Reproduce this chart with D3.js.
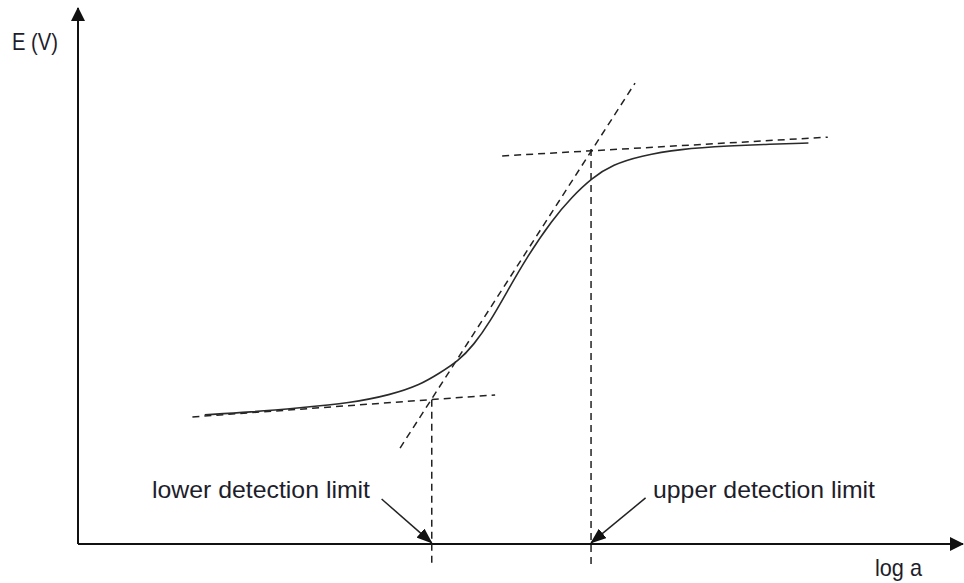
<!DOCTYPE html>
<html>
<head>
<meta charset="utf-8">
<script src="https://cdn.jsdelivr.net/npm/d3@7"></script>
<style>
  body { margin: 0; background: #fff; }
  text { font-family: "Liberation Sans", Arial, sans-serif; font-size: 24px; fill: #1d1d2b; }
</style>
</head>
<body>
<svg id="chart"></svg>
<script>
// response curve E vs log a (arbitrary units, 0..10 on both axes)
const curveX = [1.44, 1.96, 2.52, 3.09, 3.55, 3.89, 4.11, 4.32, 4.50, 4.68, 4.88, 5.10, 5.39, 5.61, 5.84, 6.08, 6.39, 6.84, 7.41, 7.86, 8.30];
const curveY = [2.41, 2.46, 2.54, 2.63, 2.78, 2.97, 3.19, 3.41, 3.72, 4.14, 4.72, 5.35, 6.05, 6.47, 6.83, 7.08, 7.24, 7.37, 7.43, 7.46, 7.48];

// tangent lines [x1, y1, x2, y2]
const lowerTangent = [1.30, 2.37, 4.74, 2.78];
const upperTangent = [4.82, 7.24, 8.52, 7.59];
const steepTangent = [3.66, 1.79, 6.33, 8.60];

// detection limits (x) and the top of their drop lines
const limitX = [4.02, 5.83];
const limitTop = [2.69, 7.37];
const limitBottom = -0.38;

const labels = ["lower detection limit", "upper detection limit"];
const labelWidths = [218, 222];
const tails = [[3.45, 0.84], [6.45, 0.86]]; // arrow tails near the labels

const width = 964, height = 583;
const x = d3.scaleLinear().domain([0, 10]).range([78, 958]);
const y = d3.scaleLinear().domain([0, 10]).range([544, 8]);

const svg = d3.select("#chart").attr("width", width).attr("height", height);

const defs = svg.append("defs");
defs.append("marker")
    .attr("id", "axisHead")
    .attr("markerUnits", "userSpaceOnUse")
    .attr("viewBox", "0 0 14 14")
    .attr("refX", 13).attr("refY", 7)
    .attr("markerWidth", 14).attr("markerHeight", 14)
    .attr("orient", "auto")
  .append("path").attr("d", "M0,0L14,7L0,14Z").attr("fill", "#111");
defs.append("marker")
    .attr("id", "noteHead")
    .attr("markerUnits", "userSpaceOnUse")
    .attr("viewBox", "0 0 16 12")
    .attr("refX", 15).attr("refY", 6)
    .attr("markerWidth", 16).attr("markerHeight", 12)
    .attr("orient", "auto")
  .append("path").attr("d", "M0,0L16,6L0,12Z").attr("fill", "#111");

// axes
svg.append("line")
    .attr("x1", x(0)).attr("y1", y(0))
    .attr("x2", x(0)).attr("y2", y(10))
    .attr("stroke", "#111").attr("stroke-width", 2)
    .attr("marker-end", "url(#axisHead)");
svg.append("line")
    .attr("x1", x(0)).attr("y1", y(0))
    .attr("x2", x(10) + 5).attr("y2", y(0))
    .attr("stroke", "#111").attr("stroke-width", 2)
    .attr("marker-end", "url(#axisHead)");

// dashed helper lines
const dashed = svg.append("g")
    .attr("stroke", "#222")
    .attr("stroke-width", 1.5)
    .attr("stroke-dasharray", "7,5")
    .attr("fill", "none");

[lowerTangent, upperTangent, steepTangent].forEach(t => {
  dashed.append("line")
      .attr("x1", x(t[0])).attr("y1", y(t[1]))
      .attr("x2", x(t[2])).attr("y2", y(t[3]));
});

dashed.selectAll("line.drop")
  .data(limitX)
  .join("line")
    .attr("class", "drop")
    .attr("x1", d => x(d)).attr("x2", d => x(d))
    .attr("y1", (d, i) => y(limitTop[i]))
    .attr("y2", y(limitBottom));

// the curve
const pts = curveX.map((d, i) => [d, curveY[i]]);
svg.append("path")
    .datum(pts)
    .attr("fill", "none")
    .attr("stroke", "#2a2a2a")
    .attr("stroke-width", 1.6)
    .attr("d", d3.line().x(d => x(d[0])).y(d => y(d[1])).curve(d3.curveBasis));

// annotation arrows
svg.selectAll("line.note")
  .data(limitX)
  .join("line")
    .attr("class", "note")
    .attr("x1", (d, i) => x(tails[i][0])).attr("y1", (d, i) => y(tails[i][1]))
    .attr("x2", d => x(d)).attr("y2", y(0.02))
    .attr("stroke", "#222").attr("stroke-width", 1.5)
    .attr("marker-end", "url(#noteHead)");

// labels
svg.append("text").attr("x", 152).attr("y", 498)
    .attr("textLength", labelWidths[0]).attr("lengthAdjust", "spacingAndGlyphs")
    .text(labels[0]);
svg.append("text").attr("x", 653).attr("y", 498)
    .attr("textLength", labelWidths[1]).attr("lengthAdjust", "spacingAndGlyphs")
    .text(labels[1]);
svg.append("text").attr("x", 12).attr("y", 50)
    .attr("textLength", 46).attr("lengthAdjust", "spacingAndGlyphs")
    .text("E (V)");
svg.append("text").attr("x", 875).attr("y", 576)
    .attr("textLength", 47).attr("lengthAdjust", "spacingAndGlyphs")
    .text("log a");
</script>
</body>
</html>
